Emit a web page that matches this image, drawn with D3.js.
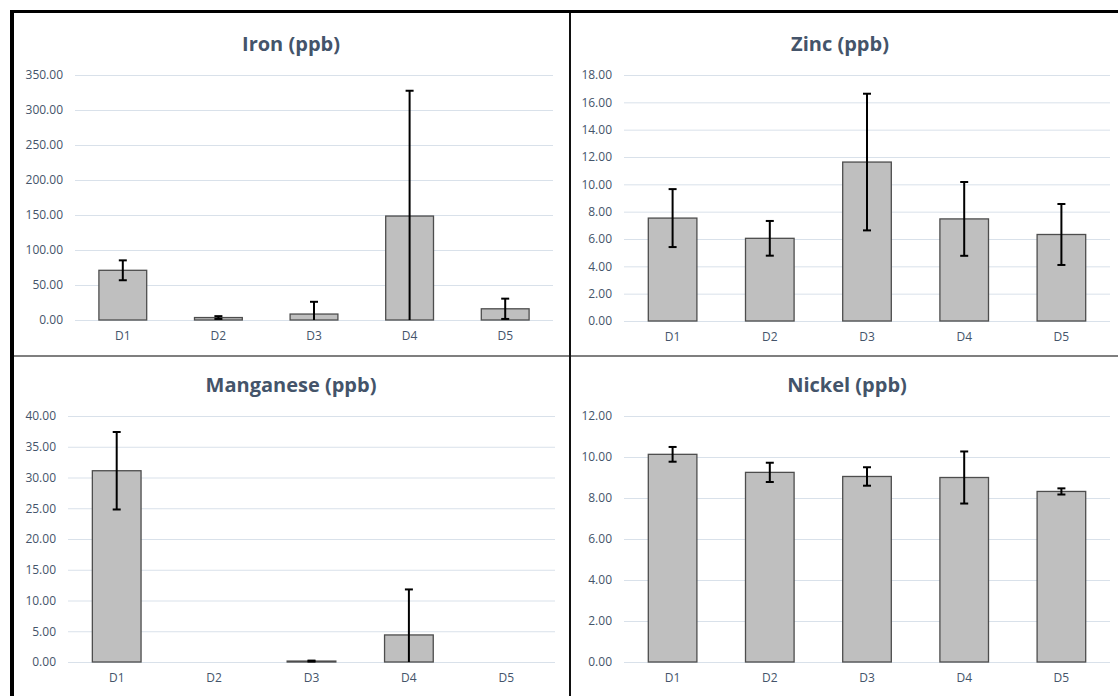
<!DOCTYPE html>
<html>
<head>
<meta charset="utf-8">
<script src="https://cdn.jsdelivr.net/npm/d3@7"></script>
<style>
  body { margin: 0; background: #fff; }
  svg { display: block; font-family: "Open Sans", sans-serif; }
</style>
</head>
<body>
<svg id="chart" width="1118" height="696"></svg>
<script>
// Categories shared by every panel
const categories = ["D1", "D2", "D3", "D4", "D5"];

// Mean values and error (+/-) for each metal
const iron_values = [71, 3.5, 8.5, 148.5, 16];
const iron_errors = [14.2, 2, 17.5, 179, 14.5];
const zinc_values = [7.53, 6.05, 11.63, 7.47, 6.33];
const zinc_errors = [2.12, 1.27, 5.0, 2.7, 2.23];
const manganese_values = [31.1, 0, 0.15, 4.4, 0];
const manganese_errors = [6.3, 0, 0.08, 7.4, 0];
const nickel_values = [10.13, 9.25, 9.05, 9.0, 8.32];
const nickel_errors = [0.36, 0.47, 0.45, 1.27, 0.15];

// Y-axis ticks for each panel
const iron_ticks = [0, 50, 100, 150, 200, 250, 300, 350];
const zinc_ticks = [0, 2, 4, 6, 8, 10, 12, 14, 16, 18];
const manganese_ticks = [0, 5, 10, 15, 20, 25, 30, 35, 40];
const nickel_ticks = [0, 2, 4, 6, 8, 10, 12];

// Panel definitions (layout built around the data arrays)
const panels = [
    { title: "Iron (ppb)", values: iron_values, errors: iron_errors, ticks: iron_ticks,
      left: 75, right: 553, top: 75, bottom: 320, titleX: 291, titleY: 51 },
    { title: "Zinc (ppb)", values: zinc_values, errors: zinc_errors, ticks: zinc_ticks,
      left: 624, right: 1110, top: 75, bottom: 321, titleX: 840, titleY: 51 },
    { title: "Manganese (ppb)", values: manganese_values, errors: manganese_errors, ticks: manganese_ticks,
      left: 68, right: 555, top: 416, bottom: 662, titleX: 291, titleY: 392 },
    { title: "Nickel (ppb)", values: nickel_values, errors: nickel_errors, ticks: nickel_ticks,
      left: 624, right: 1110, top: 416, bottom: 662, titleX: 847, titleY: 392 }
];

const text_color = "#44546a";
const svg = d3.select("#chart");
const fmt = d3.format(".2f");

// Draw each panel
panels.forEach(p => {
    const x_scale = d3.scaleBand()
        .domain(categories)
        .range([p.left, p.right])
        .paddingInner(0.5)
        .paddingOuter(0.25);
    const y_scale = d3.scaleLinear()
        .domain([p.ticks[0], p.ticks[p.ticks.length - 1]])
        .range([p.bottom, p.top])
        .clamp(true);

    const g = svg.append("g");

    // Title
    g.append("text")
        .attr("x", p.titleX)
        .attr("y", p.titleY)
        .attr("text-anchor", "middle")
        .attr("font-size", 20)
        .attr("font-weight", "bold")
        .attr("fill", text_color)
        .text(p.title);

    // Y-axis with gridlines
    const y_axis = d3.axisLeft(y_scale)
        .tickValues(p.ticks)
        .tickFormat(fmt)
        .tickSize(-(p.right - p.left))
        .tickPadding(12);
    const y_g = g.append("g")
        .attr("transform", `translate(${p.left},0)`)
        .call(y_axis);
    y_g.select(".domain").remove();
    y_g.selectAll(".tick line").attr("stroke", "#d9e1ea").attr("stroke-width", 1);
    y_g.selectAll(".tick text")
        .attr("font-size", 12)
        .attr("font-family", "Open Sans, sans-serif")
        .attr("fill", text_color);

    // X-axis labels
    const x_axis = d3.axisBottom(x_scale).tickSize(0).tickPadding(11);
    const x_g = g.append("g")
        .attr("transform", `translate(0,${p.bottom})`)
        .call(x_axis);
    x_g.select(".domain").remove();
    x_g.selectAll(".tick text")
        .attr("font-size", 12)
        .attr("font-family", "Open Sans, sans-serif")
        .attr("fill", text_color);

    // Bars
    const bar_data = categories.map((c, i) => ({ c: c, v: p.values[i], e: p.errors[i] }));
    g.selectAll("rect.bar")
        .data(bar_data.filter(d => d.v > 0))
        .enter()
        .append("rect")
        .attr("class", "bar")
        .attr("x", d => x_scale(d.c))
        .attr("y", d => y_scale(d.v))
        .attr("width", x_scale.bandwidth())
        .attr("height", d => y_scale(0) - y_scale(d.v))
        .attr("fill", "#bfbfbf")
        .attr("stroke", "#4d4d4d")
        .attr("stroke-width", 1.3);

    // Error bars
    const err_data = bar_data.filter(d => d.e > 0);
    const cx = d => x_scale(d.c) + x_scale.bandwidth() / 2;
    const eg = g.append("g").attr("stroke", "#000").attr("stroke-width", 2);
    eg.selectAll("line.stem")
        .data(err_data)
        .enter()
        .append("line")
        .attr("x1", cx).attr("x2", cx)
        .attr("y1", d => y_scale(d.v + d.e))
        .attr("y2", d => y_scale(d.v - d.e));
    eg.selectAll("line.captop")
        .data(err_data)
        .enter()
        .append("line")
        .attr("x1", d => cx(d) - 4).attr("x2", d => cx(d) + 4)
        .attr("y1", d => y_scale(d.v + d.e))
        .attr("y2", d => y_scale(d.v + d.e));
    eg.selectAll("line.capbot")
        .data(err_data.filter(d => d.v - d.e > 0))
        .enter()
        .append("line")
        .attr("x1", d => cx(d) - 4).attr("x2", d => cx(d) + 4)
        .attr("y1", d => y_scale(d.v - d.e))
        .attr("y2", d => y_scale(d.v - d.e));
});

// Frame around the four panels
svg.append("line").attr("x1", 10).attr("x2", 1118).attr("y1", 356).attr("y2", 356)
    .attr("stroke", "#7f7f7f").attr("stroke-width", 2);
svg.append("line").attr("x1", 570).attr("x2", 570).attr("y1", 10).attr("y2", 696)
    .attr("stroke", "#111").attr("stroke-width", 2);
svg.append("line").attr("x1", 10).attr("x2", 1118).attr("y1", 11.5).attr("y2", 11.5)
    .attr("stroke", "#000").attr("stroke-width", 3);
svg.append("line").attr("x1", 12).attr("x2", 12).attr("y1", 10).attr("y2", 696)
    .attr("stroke", "#000").attr("stroke-width", 4);
</script>
</body>
</html>
